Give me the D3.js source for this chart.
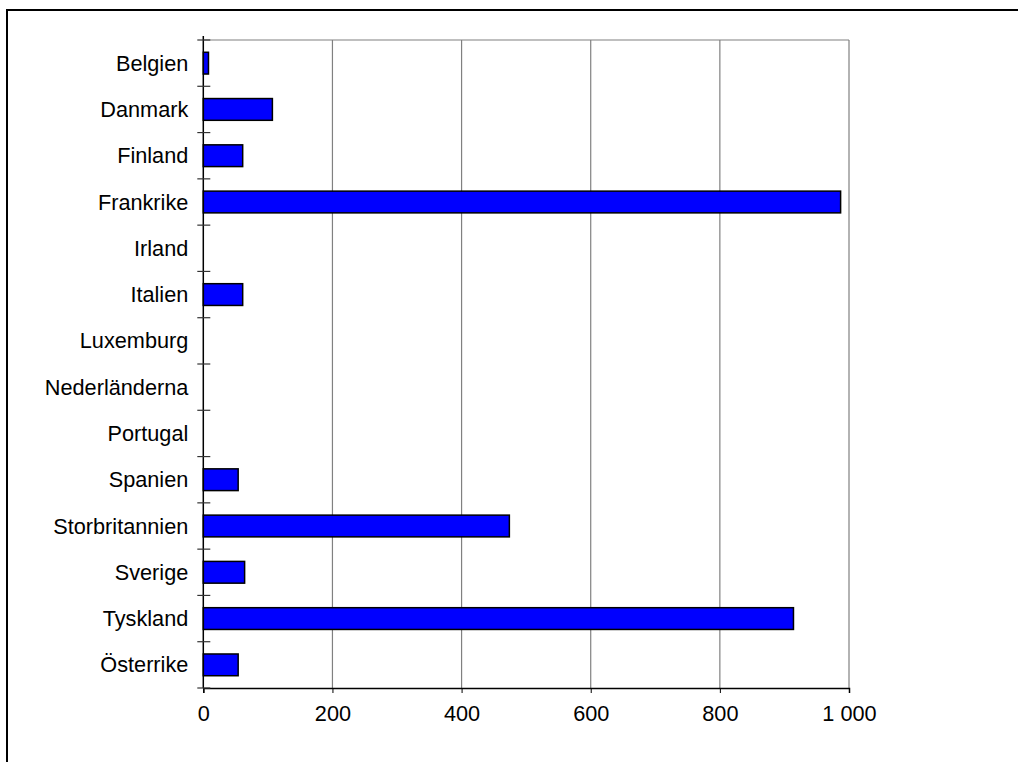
<!DOCTYPE html>
<html><head><meta charset="utf-8">
<script src="https://cdn.jsdelivr.net/npm/d3@7"></script>
<style>html,body{margin:0;padding:0;background:#fff;overflow:hidden}svg{display:block}</style>
</head><body>
<svg id="chart" width="1018" height="762"></svg>
<script>
const categories = ["Belgien","Danmark","Finland","Frankrike","Irland","Italien","Luxemburg","Nederländerna","Portugal","Spanien","Storbritannien","Sverige","Tyskland","Österrike"];
const values = [8,107,61,987,0,61,0,0,0,54,474,64,914,54];
const xTicks = [0,200,400,600,800,1000];

(function(){
const svg = d3.select("#chart");
const mLeft = 203.3, mRight = 849, mTop = 40, mBottom = 688;
const font = "Liberation Sans, Arial, sans-serif";
const fs = 21.7;

// outer frame
svg.append("rect").attr("x",7).attr("y",10).attr("width",1100).attr("height",900)
  .attr("fill","#fff").attr("stroke","#000").attr("stroke-width",2);

const x = d3.scaleLinear().domain([0,1000]).range([mLeft,mRight]);
const y = d3.scaleBand().domain(categories).range([mTop,mBottom]).paddingInner(0.53).paddingOuter(0.265);

// gridlines
svg.append("g").selectAll("line").data(xTicks.slice(1)).join("line")
  .attr("x1",d=>x(d)).attr("x2",d=>x(d)).attr("y1",mTop).attr("y2",mBottom)
  .attr("stroke","#808080").attr("stroke-width",1.2);
// top border
svg.append("line").attr("x1",mLeft).attr("x2",mRight).attr("y1",mTop).attr("y2",mTop)
  .attr("stroke","#808080").attr("stroke-width",1.2);

// bars
svg.append("g").selectAll("rect").data(categories.map((c,i)=>({c,v:values[i]})).filter(d=>d.v>0)).join("rect")
  .attr("x",x(0)).attr("y",d=>y(d.c)).attr("width",d=>x(d.v)-x(0)).attr("height",y.bandwidth())
  .attr("fill","#0000ff").attr("stroke","#000").attr("stroke-width",1.5);

// x axis
const xAxis = d3.axisBottom(x).tickValues(xTicks).tickSize(5).tickPadding(13)
  .tickFormat(d=>d3.format(",")(d).replace(/,/g," "));
const gx = svg.append("g").attr("transform",`translate(0,${mBottom})`).call(xAxis);
gx.select(".domain").attr("stroke","#000").attr("stroke-width",1.5);
gx.selectAll(".tick line").attr("stroke","#000");
gx.selectAll("text").attr("font-family",font).attr("font-size",fs).attr("fill","#000");

// y axis line
svg.append("line").attr("x1",mLeft).attr("x2",mLeft).attr("y1",mTop-4).attr("y2",mBottom)
  .attr("stroke","#000").attr("stroke-width",1.5);
// category boundary ticks (cross)
const bounds = d3.range(categories.length+1).map(i=>mTop + i*y.step());
svg.append("g").selectAll("line").data(bounds).join("line")
  .attr("x1",mLeft-6).attr("x2",mLeft+7).attr("y1",d=>d).attr("y2",d=>d)
  .attr("stroke","#333").attr("stroke-width",1.2);

// category labels
svg.append("g").selectAll("text").data(categories).join("text")
  .attr("x",mLeft-15).attr("y",d=>y(d)+y.bandwidth()/2).attr("dy","0.35em")
  .attr("text-anchor","end").attr("font-family",font).attr("font-size",fs).attr("fill","#000")
  .text(d=>d);
})();
</script>
</body></html>
